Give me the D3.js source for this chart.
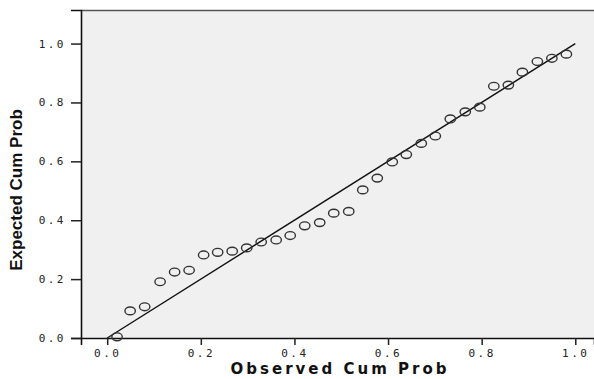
<!DOCTYPE html>
<html>
<head>
<meta charset="utf-8">
<script src="https://cdn.jsdelivr.net/npm/d3@7"></script>
<style>
  body { margin: 0; background: #fff; }
</style>
</head>
<body>
<div id="chart"></div>
<script>
// observed vs expected cumulative probabilities
const observed = [0.021, 0.049, 0.080, 0.113, 0.144, 0.175, 0.206, 0.236, 0.267, 0.298,
  0.329, 0.361, 0.391, 0.422, 0.454, 0.484, 0.516, 0.546, 0.577, 0.609,
  0.639, 0.671, 0.701, 0.733, 0.765, 0.796, 0.826, 0.857, 0.887, 0.919,
  0.950, 0.981];
const expected = [0.004, 0.092, 0.106, 0.191, 0.224, 0.230, 0.282, 0.291, 0.295, 0.306,
  0.326, 0.333, 0.348, 0.381, 0.392, 0.424, 0.430, 0.503, 0.543, 0.598,
  0.623, 0.661, 0.686, 0.744, 0.768, 0.784, 0.855, 0.859, 0.903, 0.939,
  0.950, 0.964];
const ticks = [0, 0.2, 0.4, 0.6, 0.8, 1.0];
const refLine = [0, 1];

const width = 594, height = 379;
const margin = { top: 10, right: 0, bottom: 41, left: 81 };

const svg = d3.select('#chart')
  .append('svg')
  .attr('width', width)
  .attr('height', height);

// scales
const x = d3.scaleLinear()
  .domain([-0.056, 1.04])
  .range([margin.left, width - margin.right]);
const y = d3.scaleLinear()
  .domain([0, 1.114])
  .range([height - margin.bottom, margin.top]);

// plot background
svg.append('rect')
  .attr('x', margin.left)
  .attr('y', margin.top)
  .attr('width', width - margin.right - margin.left)
  .attr('height', height - margin.bottom - margin.top)
  .attr('fill', '#f0f0f0');

// top frame line
svg.append('line')
  .attr('x1', margin.left).attr('x2', width)
  .attr('y1', margin.top + 0.5).attr('y2', margin.top + 0.5)
  .attr('stroke', '#555')
  .attr('stroke-width', 1.5);

const tickFmt = d3.format('.1f');

// x axis
const xAxis = svg.append('g')
  .attr('transform', `translate(0,${height - margin.bottom})`)
  .call(d3.axisBottom(x).tickValues(ticks).tickFormat(tickFmt).tickSize(7).tickPadding(4));

// y axis
const yAxis = svg.append('g')
  .attr('transform', `translate(${margin.left},0)`)
  .call(d3.axisLeft(y).tickValues(ticks).tickFormat(tickFmt).tickSize(10).tickPadding(5));

[xAxis, yAxis].forEach(g => {
  g.select('.domain').attr('stroke', '#111').attr('stroke-width', 1.6);
  g.selectAll('.tick line').attr('stroke', '#222').attr('stroke-width', 1.5);
  g.selectAll('.tick text')
    .attr('fill', '#222')
    .attr('font-family', 'DejaVu Sans Mono, monospace')
    .attr('font-size', 11)
    .attr('letter-spacing', 2.5);
});

// reference line
svg.append('line')
  .attr('x1', x(refLine[0])).attr('y1', y(refLine[0]))
  .attr('x2', x(refLine[1])).attr('y2', y(refLine[1]))
  .attr('stroke', '#111')
  .attr('stroke-width', 1.4);

// points (slightly flattened markers, as in the source image)
svg.append('g')
  .selectAll('ellipse')
  .data(observed.map((d, i) => ({ o: d, e: expected[i] })))
  .join('ellipse')
  .attr('cx', d => x(d.o))
  .attr('cy', d => y(d.e))
  .attr('rx', 5.2)
  .attr('ry', 3.9)
  .attr('fill', 'none')
  .attr('stroke', '#333')
  .attr('stroke-width', 1.4);

// axis titles
svg.append('text')
  .attr('x', 340)
  .attr('y', 374)
  .attr('text-anchor', 'middle')
  .attr('font-family', 'DejaVu Sans, sans-serif')
  .attr('font-weight', 'bold')
  .attr('font-size', 15)
  .attr('letter-spacing', 3)
  .attr('fill', '#111')
  .text('Observed Cum Prob');

svg.append('text')
  .attr('transform', 'translate(22,190) rotate(-90)')
  .attr('text-anchor', 'middle')
  .attr('font-family', 'Liberation Sans Narrow, Arial Narrow, sans-serif')
  .attr('font-stretch', 'condensed')
  .attr('font-weight', 'bold')
  .attr('font-size', 17)
  .attr('fill', '#111')
  .text('Expected Cum Prob');
</script>
</body>
</html>
